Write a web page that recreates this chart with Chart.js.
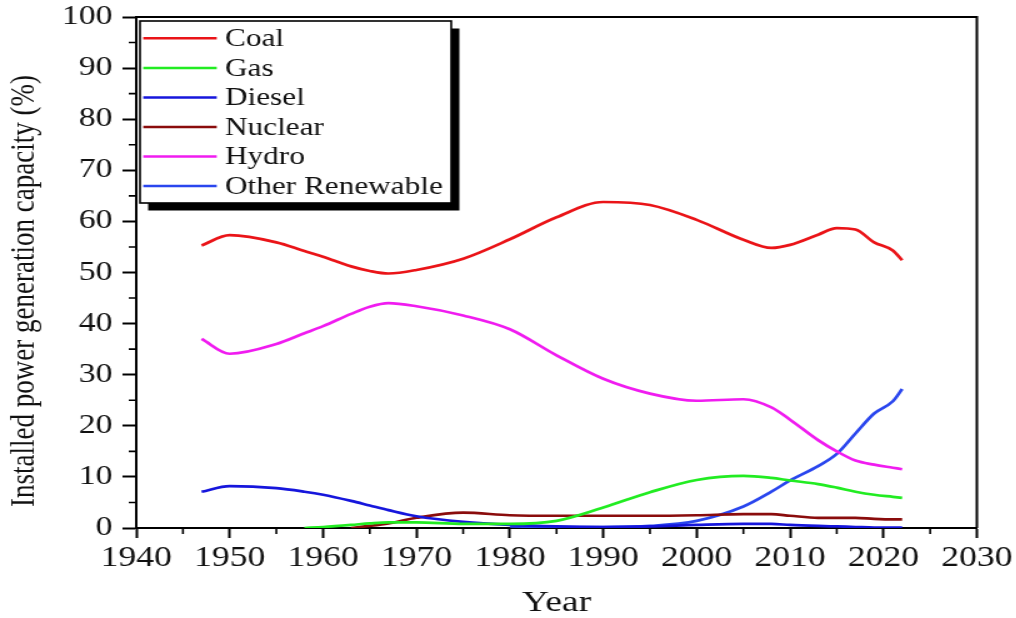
<!DOCTYPE html>
<html><head><meta charset="utf-8">
<script src="https://cdn.jsdelivr.net/npm/chart.js@4/dist/chart.umd.min.js"></script>
<style>
html,body{margin:0;padding:0;background:#fff;overflow:hidden}
#wrap{position:absolute;left:0;top:0;width:813px;height:618px;transform:scale(1.25,1);transform-origin:0 0}
</style></head><body>
<div id="wrap"><canvas id="c" width="813" height="618"></canvas></div>
<script>
const years    = [1947,1950,1955,1958,1960,1963,1965,1967,1970,1975,1980,1985,1990,1995,2000,2005,2008,2010,2013,2015,2017,2019,2021,2022];
const coal     = [55.3,57.3,55.9,54.2,53.1,51.2,50.3,49.8,50.5,52.7,56.5,60.8,63.8,63.2,60.3,56.4,54.8,55.4,57.4,58.7,58.4,55.9,54.3,52.4];
const gas      = [null,null,null,0.0,0.2,0.6,0.9,1.1,1.1,0.8,0.8,1.4,4.0,7.0,9.4,10.2,9.8,9.3,8.6,7.9,7.1,6.5,6.1,5.9];
const diesel   = [7.1,8.2,7.8,7.1,6.5,5.3,4.4,3.5,2.3,1.2,0.6,0.3,0.2,0.3,0.6,0.8,0.8,0.6,0.4,0.3,0.2,0.1,0.1,0.1];
const nuclear  = [null,null,null,null,null,0.0,0.4,0.9,2.0,3.0,2.5,2.4,2.4,2.4,2.5,2.7,2.7,2.4,2.0,2.0,2.0,1.8,1.7,1.7];
const hydro    = [37.0,34.1,36.0,38.1,39.5,41.9,43.3,44.0,43.4,41.6,38.9,33.8,29.2,26.3,24.9,25.2,23.6,21.2,17.2,15.0,13.2,12.4,11.8,11.5];
const otherRen = [null,null,null,null,null,null,null,null,null,null,0.3,0.2,0.2,0.4,1.4,4.2,7.1,9.3,12.1,14.5,18.5,22.4,24.8,27.2];

const seriesNames  = ['Coal','Gas','Diesel','Nuclear','Hydro','Other Renewable'];
const seriesValues = [coal, gas, diesel, nuclear, hydro, otherRen];
const seriesColors = ['#ea1418','#22ec22','#1616dc','#8a0c0c','#f01cf0','#2a46ee'];

const xTicks = {min:1940, max:2030, step:10};
const yTicks = {min:0, max:100, step:10};
const xTitle = 'Year';
const yTitle = 'Installed power generation capacity (%)';
const FONT = "'Liberation Serif','Times New Roman',serif";

const framePlugin = {
  id:'frame',
  afterDraw(chart){
    const {ctx, chartArea:a, scales} = chart;
    ctx.save();
    ctx.strokeStyle = '#000';
    ctx.lineWidth = 2;
    ctx.beginPath();
    ctx.moveTo(a.left, a.top); ctx.lineTo(a.right, a.top); ctx.lineTo(a.right, a.bottom);
    ctx.stroke();
    // minor ticks
    ctx.lineWidth = 1.6;
    ctx.beginPath();
    for (let v = yTicks.min + yTicks.step/2; v < yTicks.max; v += yTicks.step) {
      const py = scales.y.getPixelForValue(v);
      ctx.moveTo(a.left - 6, py); ctx.lineTo(a.left, py);
    }
    for (let v = xTicks.min + xTicks.step/2; v < xTicks.max; v += xTicks.step) {
      const px = scales.x.getPixelForValue(v);
      ctx.moveTo(px, a.bottom); ctx.lineTo(px, a.bottom + 6);
    }
    ctx.stroke();
    // y axis title
    ctx.save();
    ctx.translate(20, 291);
    ctx.rotate(-Math.PI/2);
    ctx.font = '27px ' + FONT;
    ctx.fillStyle = '#111';
    ctx.textAlign = 'center';
    ctx.textBaseline = 'middle';
    ctx.fillText(yTitle, 0, 0);
    ctx.restore();
    // legend
    const L = 112, T = 21, R = 361, B = 203;
    ctx.fillStyle = '#000';
    ctx.fillRect(L + 6.5, T + 7.5, R - L, B - T);
    ctx.fillStyle = '#fff';
    ctx.fillRect(L, T, R - L, B - T);
    ctx.lineWidth = 1.6;
    ctx.strokeStyle = '#000';
    ctx.strokeRect(L, T, R - L, B - T);
    const rowY = [38.3, 68.0, 97.5, 127.0, 156.5, 186.0];
    ctx.font = '25px ' + FONT;
    ctx.textBaseline = 'middle';
    ctx.textAlign = 'left';
    chart.data.datasets.forEach((ds, i) => {
      ctx.strokeStyle = ds.borderColor;
      ctx.lineWidth = 2.5;
      ctx.beginPath();
      ctx.moveTo(114.6, rowY[i]); ctx.lineTo(173.4, rowY[i]);
      ctx.stroke();
      ctx.fillStyle = '#111';
      ctx.fillText(ds.label, 180, rowY[i] + 1);
    });
    ctx.restore();
  }
};

new Chart(document.getElementById('c'), {
  type:'line',
  data:{
    datasets: seriesNames.map((name, i) => ({
      label: name,
      data: years.map((yr, j) => ({x: yr, y: seriesValues[i][j]})).filter(p => p.y !== null),
      borderColor: seriesColors[i],
      backgroundColor: seriesColors[i],
      borderWidth: 2.7,
      pointRadius: 0,
      fill: false,
      cubicInterpolationMode: 'monotone'
    }))
  },
  options:{
    responsive:false,
    animation:false,
    devicePixelRatio:1,
    layout:{padding:{left:0,right:31,top:17,bottom:0}},
    plugins:{legend:{display:false}, tooltip:{enabled:false}},
    scales:{
      x:{
        type:'linear', min:xTicks.min, max:xTicks.max,
        ticks:{stepSize:xTicks.step, autoSkip:false, maxRotation:0, color:'#111', padding:3,
               font:{family:FONT, size:28.5}, callback:v => String(v)},
        grid:{drawOnChartArea:false, drawTicks:true, tickLength:10, tickWidth:2, tickColor:'#000'},
        border:{color:'#000', width:2},
        title:{display:true, text:xTitle, color:'#111', padding:0, font:{family:FONT, size:30, lineHeight:1}},
        afterFit(s){ s.height = 90; }
      },
      y:{
        min:yTicks.min, max:yTicks.max,
        ticks:{stepSize:yTicks.step, color:'#111', padding:8, font:{family:FONT, size:27, lineHeight:0.6}, callback:v => String(v)},
        grid:{drawOnChartArea:false, drawTicks:true, tickLength:11, tickWidth:2, tickColor:'#000'},
        border:{color:'#000', width:2},
        title:{display:false},
        afterFit(s){ s.width = 109; }
      }
    }
  },
  plugins:[framePlugin]
});
</script>
</body></html>
